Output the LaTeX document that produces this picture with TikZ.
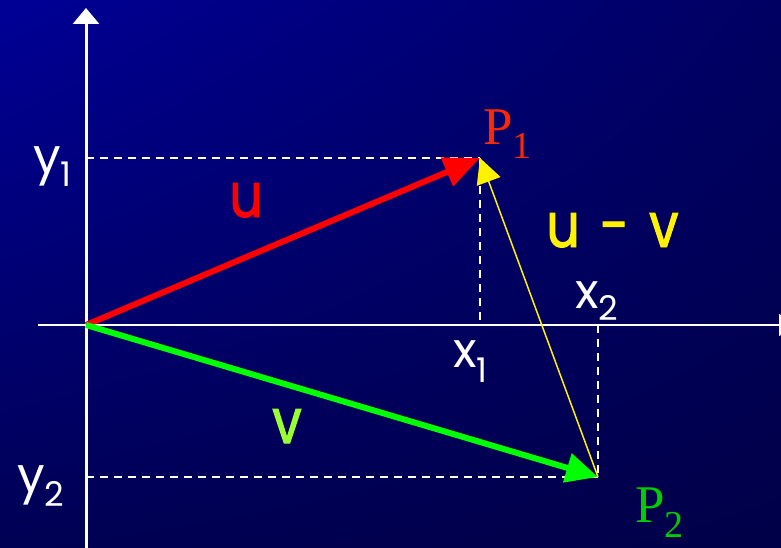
\documentclass[tikz,border=0pt]{standalone}
\usepackage{fontspec}
\setmainfont{Poppins}
\newfontfamily\serifP{Liberation Serif}
\newfontfamily\vecfont[FakeBold=1.6,FakeStretch=0.85]{Poppins}
\usetikzlibrary{arrows.meta,shadings}
\definecolor{bgUL}{RGB}{0,0,150}
\definecolor{bgUR}{RGB}{0,0,98}
\definecolor{bgLL}{RGB}{0,0,84}
\definecolor{bgLR}{RGB}{0,0,72}
\definecolor{pred}{RGB}{255,40,0}
\definecolor{pgreen}{RGB}{0,204,0}
\definecolor{vgreen}{RGB}{153,255,51}
\definecolor{agreen}{RGB}{0,255,0}
\newcommand{\mysub}[2]{\raisebox{-#2pt}{\fontsize{34}{34}\selectfont #1}}
\newcommand{\psub}[2]{\raisebox{-#2pt}{\fontsize{38}{38}\selectfont #1}}
\tikzset{
  axis/.style={draw=white},
  dashline/.style={draw=white, line width=2pt, dash pattern=on 8pt off 6pt},
  coordlabel/.style={text=white, font=\fontsize{49}{49}\selectfont, inner sep=0pt, anchor=base west},
  veclabel/.style={font=\vecfont\fontsize{62}{62}\selectfont, inner sep=0pt, anchor=base west},
  plabel/.style={font=\serifP\fontsize{53}{53}\selectfont, inner sep=0pt, anchor=base west},
}
\begin{document}
\begin{tikzpicture}[x=1pt,y=-1pt]
\useasboundingbox (0,0) rectangle (781,548);
\clip (0,0) rectangle (781,548);
\shade[upper left=bgUL, upper right=bgUR, lower left=bgLL, lower right=bgLR] (0,0) rectangle (781,548);
% coordinates
\coordinate (O) at (86,325);
\coordinate (P1) at (480,158);
\coordinate (P2) at (598,477);
\coordinate (Ybot) at (86,548);
\coordinate (Ytop) at (86,8);
\coordinate (Xleft) at (38,325);
\coordinate (Xright) at (795,325);
\coordinate (Y1) at (86,158);
\coordinate (Y2) at (86,477);
% axes
\draw[axis, line width=3pt, -{Triangle[length=16pt,width=26pt]}] (Ybot) -- (Ytop);
\draw[axis, line width=2pt, -{Triangle[length=16pt,width=22pt]}] (Xleft) -- (Xright);
% dashed projections
\draw[dashline] (Y1) -- (P1);
\draw[dashline] (P1) -- (P1 |- O);
\draw[dashline] (Y2) -- (P2);
\draw[dashline] (P2 |- O) -- (P2);
% vectors
\draw[draw=red, line width=6pt, -{Triangle[length=36pt,width=30pt]}] (O) -- (P1);
\draw[draw=agreen, line width=6pt, -{Triangle[length=32pt,width=29pt]}] (O) -- (P2);
\draw[draw=yellow, fill=yellow, line width=1.5pt, -{Triangle[length=25pt,width=25pt]}] (P2) -- (P1);
% labels
\node[coordlabel] (ly1) at (33,174) {y\mysub{1}{13}};
\node[coordlabel] (ly2) at (17,492) {y\mysub{2}{14}};
\node[coordlabel] (lx1) at (453,367) {x\mysub{1}{15}};
\node[coordlabel] (lx2) at (575,308) {x\mysub{2}{12}};
\node[veclabel, text=red] (lu) at (229,217) {u};
\node[veclabel, text=vgreen] (lv) at (272,443) {v};
\node[veclabel, text=yellow] (luv) at (546,247) {u\hspace{6pt} -\hspace{6pt} v};
\node[plabel, text=pred] (lp1) at (483,145) {P\psub{1}{14}};
\node[plabel, text=pgreen] (lp2) at (635,522) {P\psub{2}{15}};
\end{tikzpicture}
\end{document}
